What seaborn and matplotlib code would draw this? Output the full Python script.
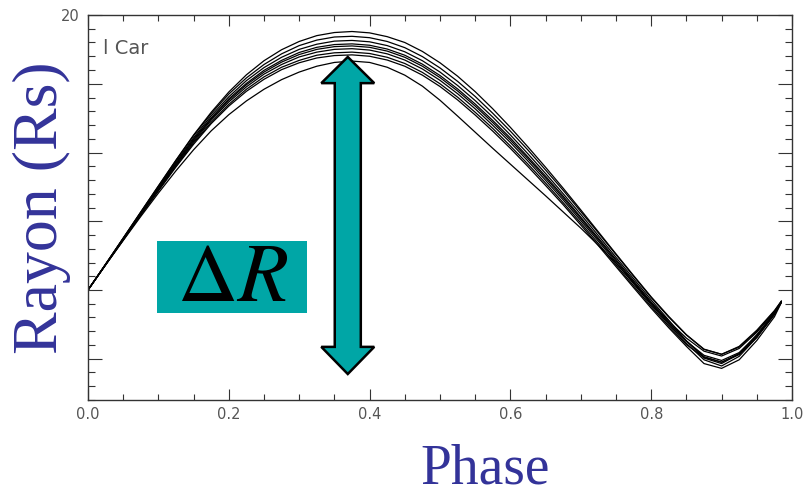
import numpy as np
import pandas as pd
import matplotlib
matplotlib.use("Agg")
import matplotlib.pyplot as plt
from matplotlib.patches import Polygon, Rectangle
from matplotlib.ticker import MultipleLocator, FixedLocator
import seaborn as sns

# ---------------- data ----------------
phases = [0.000, 0.025, 0.050, 0.075, 0.100, 0.125, 0.150, 0.175, 0.200, 0.225,
          0.250, 0.275, 0.300, 0.325, 0.350, 0.375, 0.400, 0.425, 0.450, 0.475,
          0.500, 0.525, 0.550, 0.575, 0.600, 0.625, 0.650, 0.675, 0.700, 0.725,
          0.750, 0.775, 0.800, 0.825, 0.850, 0.875, 0.900, 0.925, 0.950, 0.975, 0.985]

curve_top = [12.00, 12.75, 13.51, 14.27, 15.03, 15.78, 16.51, 17.17, 17.76, 18.26,
             18.67, 18.99, 19.23, 19.40, 19.49, 19.52, 19.48, 19.37, 19.20, 18.94,
             18.61, 18.22, 17.77, 17.27, 16.73, 16.16, 15.57, 14.96, 14.33, 13.69,
             13.05, 12.42, 11.80, 11.23, 10.70, 10.28, 10.13, 10.34, 10.80, 11.38, 11.68]
curve_b1 = [12.00, 12.75, 13.51, 14.27, 15.02, 15.77, 16.49, 17.13, 17.70, 18.17,
            18.56, 18.87, 19.11, 19.27, 19.36, 19.38, 19.34, 19.23, 19.05, 18.79,
            18.46, 18.07, 17.63, 17.14, 16.62, 16.07, 15.49, 14.90, 14.28, 13.66,
            13.03, 12.40, 11.78, 11.21, 10.69, 10.27, 10.13, 10.36, 10.83, 11.40, 11.68]
curve_b2 = [12.00, 12.75, 13.50, 14.25, 14.99, 15.73, 16.43, 17.07, 17.62, 18.09,
            18.47, 18.77, 19.00, 19.15, 19.24, 19.26, 19.22, 19.11, 18.93, 18.67,
            18.34, 17.95, 17.51, 17.03, 16.51, 15.96, 15.39, 14.80, 14.20, 13.58,
            12.95, 12.33, 11.71, 11.12, 10.52, 10.02, 9.86, 10.14, 10.67, 11.33, 11.66]
curve_b3 = [12.00, 12.74, 13.49, 14.23, 14.97, 15.69, 16.39, 17.01, 17.56, 18.01,
            18.39, 18.68, 18.91, 19.06, 19.14, 19.16, 19.12, 19.01, 18.83, 18.57,
            18.24, 17.85, 17.41, 16.93, 16.42, 15.87, 15.31, 14.73, 14.12, 13.51,
            12.89, 12.27, 11.65, 11.09, 10.60, 10.22, 10.08, 10.30, 10.77, 11.36, 11.66]
curve_mid = [12.00, 12.74, 13.48, 14.22, 14.95, 15.67, 16.36, 16.98, 17.52, 17.97,
             18.34, 18.63, 18.85, 19.00, 19.08, 19.10, 19.06, 18.95, 18.77, 18.51,
             18.18, 17.79, 17.35, 16.87, 16.36, 15.82, 15.26, 14.68, 14.08, 13.47,
             12.85, 12.23, 11.62, 11.05, 10.52, 10.06, 9.90, 10.15, 10.70, 11.33, 11.66]
curve_b5 = [12.00, 12.74, 13.47, 14.21, 14.93, 15.64, 16.32, 16.94, 17.47, 17.91,
            18.28, 18.56, 18.78, 18.92, 19.00, 19.02, 18.98, 18.87, 18.69, 18.43,
            18.10, 17.71, 17.27, 16.79, 16.29, 15.75, 15.19, 14.62, 14.02, 13.42,
            12.80, 12.18, 11.57, 11.00, 10.45, 9.97, 9.79, 10.07, 10.62, 11.30, 11.65]
curve_b6 = [12.00, 12.73, 13.46, 14.19, 14.90, 15.61, 16.28, 16.88, 17.40, 17.84,
            18.20, 18.48, 18.68, 18.83, 18.90, 18.92, 18.88, 18.77, 18.59, 18.33,
            18.00, 17.61, 17.17, 16.70, 16.19, 15.66, 15.11, 14.54, 13.95, 13.35,
            12.73, 12.12, 11.52, 10.95, 10.41, 10.04, 9.90, 10.12, 10.62, 11.28, 11.65]
curve_b7 = [12.00, 12.73, 13.45, 14.18, 14.88, 15.58, 16.24, 16.84, 17.35, 17.78,
            18.13, 18.41, 18.61, 18.75, 18.82, 18.84, 18.80, 18.69, 18.51, 18.25,
            17.92, 17.53, 17.09, 16.62, 16.12, 15.59, 15.04, 14.48, 13.89, 13.29,
            12.68, 12.07, 11.47, 10.90, 10.36, 9.86, 9.72, 9.97, 10.53, 11.22, 11.64]
curve_low = [12.00, 12.73, 13.44, 14.14, 14.82, 15.47, 16.08, 16.63, 17.10, 17.50,
             17.84, 18.12, 18.34, 18.51, 18.62, 18.66, 18.62, 18.48, 18.25, 17.93,
             17.52, 17.06, 16.59, 16.12, 15.66, 15.20, 14.74, 14.27, 13.80, 13.30,
             12.78, 12.21, 11.61, 11.04, 10.51, 10.10, 9.95, 10.18, 10.68, 11.32, 11.66]

curves = {"top": curve_top, "b1": curve_b1, "b2": curve_b2, "b3": curve_b3,
          "mid": curve_mid, "b5": curve_b5, "b6": curve_b6, "b7": curve_b7,
          "low": curve_low}

x_ticks = [0.0, 0.2, 0.4, 0.6, 0.8, 1.0]
x_tick_labels = ["0.0", "0.2", "0.4", "0.6", "0.8", "1.0"]
y_ticks = [10, 12, 14, 16, 18, 20]
y_tick_labels = ["", "", "", "", "", "20"]

rows = []
for name, vals in curves.items():
    for p, v in zip(phases, vals):
        rows.append({"curve": name, "phase": p, "radius": v})
df = pd.DataFrame(rows)

# ---------------- figure ----------------
sns.set_style("white")
plt.rcParams["font.family"] = ["DejaVu Sans"]
plt.rcParams["mathtext.fontset"] = "stix"

fig = plt.figure(figsize=(8.09, 4.96), dpi=100)
ax = fig.add_axes([88 / 809, 1 - 400 / 496, 704 / 809, 385 / 496])

sns.lineplot(data=df, x="phase", y="radius", units="curve", estimator=None,
             color="black", linewidth=0.9, ax=ax, legend=False, sort=False)

ax.set_xlim(0.0, 1.0)
ax.set_ylim(8.8, 20.0)
ax.set_xlabel("")
ax.set_ylabel("")

ax.xaxis.set_major_locator(FixedLocator(x_ticks))
ax.set_xticklabels(x_tick_labels)
ax.xaxis.set_minor_locator(MultipleLocator(0.05))
ax.yaxis.set_major_locator(FixedLocator(y_ticks))
ax.set_yticklabels(y_tick_labels)
ax.yaxis.set_minor_locator(MultipleLocator(0.4))

axis_col = "#333333"
for s in ax.spines.values():
    s.set_color(axis_col)
    s.set_linewidth(1.0)
    s.set_visible(True)

ax.tick_params(axis="x", which="major", direction="in", length=8, width=0.8,
               top=True, bottom=True, color=axis_col, labelsize=10.5,
               labelcolor="#555555", pad=5)
ax.tick_params(axis="x", which="minor", direction="in", length=4.5, width=0.8,
               top=True, bottom=True, color=axis_col)
ax.tick_params(axis="y", which="major", direction="in", length=10, width=0.8,
               left=True, right=True, color=axis_col, labelsize=10.5,
               labelcolor="#555555", pad=6)
ax.tick_params(axis="y", which="minor", direction="in", length=5, width=0.8,
               left=True, right=True, color=axis_col)

ax.text((103 - 88) / 704, 1 - (48 - 15) / 385, "l Car", transform=ax.transAxes,
        fontsize=14, color="#555555", ha="left", va="center")

# double-headed block arrow (axes fraction)
xc = 0.369
sw, hw = 0.0185, 0.0376
yt, yhb, ybb, yb = 0.891, 0.823, 0.138, 0.0675
arrow_pts = [(xc, yt), (xc + hw, yhb), (xc + sw, yhb), (xc + sw, ybb), (xc + hw, ybb),
             (xc, yb), (xc - hw, ybb), (xc - sw, ybb), (xc - sw, yhb), (xc - hw, yhb)]
ax.add_patch(Polygon(arrow_pts, closed=True, transform=ax.transAxes,
                     facecolor="#00A6A6", edgecolor="black", linewidth=1.8,
                     zorder=5, clip_on=False))

# Delta R box
ax.add_patch(Rectangle((0.098, 0.226), 0.213, 0.187, transform=ax.transAxes,
                       facecolor="#00A6A6", edgecolor="none", zorder=5))
ax.text(0.205, 0.318, r"$\Delta R$", transform=ax.transAxes, fontsize=60,
        color="black", ha="center", va="center", zorder=6)

# axis titles
fig.text(42 / 809, 1 - 208 / 496, "Rayon (Rs)", rotation=90, ha="center", va="center",
         fontsize=46, color="#333399", family=["Liberation Serif", "DejaVu Serif"])
fig.text(485 / 809, 1 - 470 / 496, "Phase", ha="center", va="center",
         fontsize=40, color="#333399", family=["Liberation Serif", "DejaVu Serif"])

fig.savefig("out.png", dpi=100)
